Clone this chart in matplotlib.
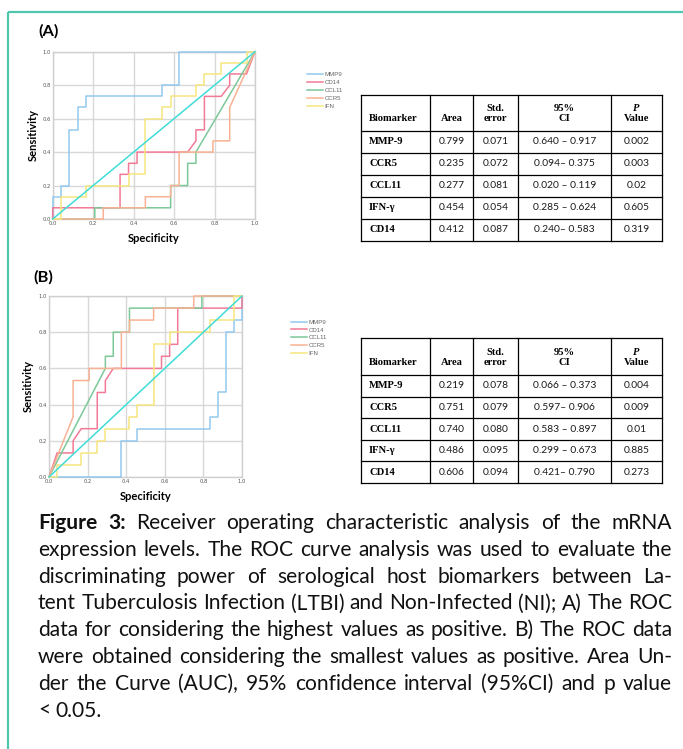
import matplotlib
matplotlib.use("Agg")
import matplotlib.pyplot as plt

W, H = 683, 749

# ---- ROC data, panel A (highest values positive) ----
a_mmp9_x = [0, 0, 0.042, 0.042, 0.083, 0.083, 0.125, 0.125, 0.167, 0.167, 0.542, 0.542, 0.625, 0.625, 1.0]
a_mmp9_y = [0, 0.133, 0.133, 0.2, 0.2, 0.533, 0.533, 0.667, 0.667, 0.733, 0.733, 0.8, 0.8, 1.0, 1.0]
a_cd14_x = [0, 0, 0.333, 0.333, 0.375, 0.375, 0.417, 0.417, 0.667, 0.708, 0.708, 0.75, 0.75, 0.833, 0.875, 0.875, 0.958, 1.0]
a_cd14_y = [0, 0.067, 0.067, 0.267, 0.267, 0.333, 0.333, 0.4, 0.4, 0.467, 0.533, 0.533, 0.733, 0.733, 0.8, 0.867, 0.867, 1.0]
a_ccl11_x = [0, 0.208, 0.208, 0.583, 0.583, 0.667, 0.667, 0.708, 0.708, 1.0]
a_ccl11_y = [0, 0, 0.067, 0.067, 0.2, 0.2, 0.333, 0.333, 0.4, 1.0]
a_ccr5_x = [0, 0.25, 0.25, 0.458, 0.458, 0.583, 0.583, 0.625, 0.625, 0.792, 0.792, 0.875, 0.875, 1.0]
a_ccr5_y = [0, 0, 0.067, 0.067, 0.133, 0.133, 0.2, 0.2, 0.4, 0.4, 0.467, 0.467, 0.667, 1.0]
a_ifn_x = [0, 0.042, 0.042, 0.167, 0.167, 0.375, 0.375, 0.458, 0.458, 0.542, 0.542, 0.583, 0.583,
           0.708, 0.708, 0.75, 0.75, 0.833, 0.833, 0.958, 0.958, 1.0]
a_ifn_y = [0, 0, 0.133, 0.133, 0.2, 0.2, 0.267, 0.267, 0.6, 0.6, 0.667, 0.667, 0.733,
           0.733, 0.8, 0.8, 0.867, 0.867, 0.933, 0.933, 1.0, 1.0]

# ---- ROC data, panel B (smallest values positive) ----
b_mmp9_x = [0, 0.375, 0.375, 0.458, 0.458, 0.833, 0.833, 0.875, 0.875, 0.917, 0.917, 0.958, 0.958, 1.0, 1.0]
b_mmp9_y = [0, 0, 0.2, 0.2, 0.267, 0.267, 0.333, 0.333, 0.467, 0.467, 0.8, 0.8, 0.867, 0.867, 1.0]
b_cd14_x = [0, 0.042, 0.125, 0.125, 0.167, 0.25, 0.25, 0.292, 0.292, 0.333, 0.583, 0.583, 0.625, 0.625,
            0.667, 0.667, 1.0, 1.0]
b_cd14_y = [0, 0.133, 0.133, 0.2, 0.267, 0.267, 0.467, 0.467, 0.533, 0.6, 0.6, 0.667, 0.667, 0.733,
            0.733, 0.933, 0.933, 1.0]
b_ccl11_x = [0, 0.292, 0.292, 0.333, 0.333, 0.417, 0.417, 0.792, 0.792, 1.0]
b_ccl11_y = [0, 0.6, 0.667, 0.667, 0.8, 0.8, 0.933, 0.933, 1.0, 1.0]
b_ccr5_x = [0, 0.125, 0.125, 0.208, 0.208, 0.375, 0.375, 0.417, 0.417, 0.542, 0.542, 0.75, 0.75, 1.0]
b_ccr5_y = [0, 0.333, 0.533, 0.533, 0.6, 0.6, 0.8, 0.8, 0.867, 0.867, 0.933, 0.933, 1.0, 1.0]
b_ifn_x = [0, 0.042, 0.042, 0.167, 0.167, 0.25, 0.25, 0.292, 0.292, 0.417, 0.417, 0.458, 0.458,
           0.542, 0.542, 0.625, 0.625, 0.833, 0.833, 0.958, 0.958, 1.0]
b_ifn_y = [0, 0, 0.067, 0.067, 0.133, 0.133, 0.2, 0.2, 0.267, 0.267, 0.333, 0.333, 0.4,
           0.4, 0.733, 0.733, 0.8, 0.8, 0.867, 0.867, 1.0, 1.0]

legend_names = ["MMP9", "CD14", "CCL11", "CCR5", "IFN"]
curve_colors = ["#92c9ee", "#f27a96", "#7cc898", "#f8b293", "#f6e67e"]
ticks = [0.0, 0.2, 0.4, 0.6, 0.8, 1.0]
tick_labels = ["0.0", "0.2", "0.4", "0.6", "0.8", "1.0"]

# ---- tables ----
biomarkers = ["MMP-9", "CCR5", "CCL11", "IFN-γ", "CD14"]
a_area = ["0.799", "0.235", "0.277", "0.454", "0.412"]
a_se = ["0.071", "0.072", "0.081", "0.054", "0.087"]
a_ci = ["0.640 – 0.917", "0.094– 0.375", "0.020 – 0.119", "0.285 – 0.624", "0.240– 0.583"]
a_p = ["0.002", "0.003", "0.02", "0.605", "0.319"]
b_area = ["0.219", "0.751", "0.740", "0.486", "0.606"]
b_se = ["0.078", "0.079", "0.080", "0.095", "0.094"]
b_ci = ["0.066 – 0.373", "0.597– 0.906", "0.583 – 0.897", "0.299 – 0.673", "0.421– 0.790"]
b_p = ["0.004", "0.009", "0.01", "0.885", "0.273"]

caption_lines = [
    "Figure 3: Receiver operating characteristic analysis of the mRNA",
    "expression levels. The ROC curve analysis was used to evaluate the",
    "discriminating power of serological host biomarkers between La-",
    "tent Tuberculosis Infection (LTBI) and Non-Infected (NI); A) The ROC",
    "data for considering the highest values as positive. B) The ROC data",
    "were obtained considering the smallest values as positive. Area Un-",
    "der the Curve (AUC), 95% confidence interval (95%CI) and p value",
    "< 0.05.",
]

SANS = "Lato"

fig = plt.figure(figsize=(W / 100, H / 100), dpi=100)
fig.patch.set_facecolor("white")

# pixel-coordinate overlay for border, tables and caption
canvas = fig.add_axes([0, 0, 1, 1])
canvas.set_xlim(0, W)
canvas.set_ylim(H, 0)
canvas.axis("off")
canvas.patch.set_alpha(0)

canvas.plot([7.5, W], [12, 12], color="#4fc7ad", lw=1.6, solid_capstyle="butt")
canvas.plot([7.5, 7.5], [12, H], color="#4fc7ad", lw=1.6, solid_capstyle="butt")


def roc_panel(box, curves, label, label_xy, sens_x, spec_y, leg_xy):
    l, t, r, b = box
    ax = fig.add_axes([l / W, 1 - b / H, (r - l) / W, (b - t) / H])
    for (xs, ys), c, name in zip(curves, curve_colors, legend_names):
        ax.plot(xs, ys, color=c, lw=1.1, label=name, clip_on=False, zorder=3)
    ax.plot([0, 1], [0, 1], color="#3fdcd8", lw=1.1, zorder=5, clip_on=False)
    ax.set_xlim(0, 1)
    ax.set_ylim(0, 1)
    ax.set_xticks(ticks)
    ax.set_yticks(ticks)
    ax.set_xticklabels(tick_labels)
    ax.set_yticklabels(tick_labels)
    ax.tick_params(length=0, labelsize=3.8, labelcolor="#555555", pad=1.5)
    ax.grid(True, color="#d8d8d8", lw=1.0)
    ax.set_axisbelow(True)
    for s in ax.spines.values():
        s.set_color("#cfcfcf")
        s.set_linewidth(1.0)
        s.set_zorder(1)
    canvas.text(label_xy[0], label_xy[1], label, fontsize=11.8, fontweight="bold",
                family=SANS, ha="left", va="center")
    canvas.text(sens_x, (t + b) / 2, "Sensitivity", rotation=90, fontsize=8,
                fontweight="bold", family=SANS, ha="center", va="center")
    canvas.text((l + r) / 2, spec_y, "Specificity", fontsize=8,
                fontweight="bold", family=SANS, ha="center", va="center")
    handles, labels = ax.get_legend_handles_labels()
    fig.legend(handles[:5], labels[:5], loc="upper left",
               bbox_to_anchor=(leg_xy[0] / W, 1 - leg_xy[1] / H), frameon=False,
               prop={"family": "Liberation Sans", "size": 4.4}, labelcolor="#666666",
               handlelength=2.6, handletextpad=0.3, labelspacing=0.42,
               borderpad=0, borderaxespad=0)
    return ax


def table(top, head_bot, bottom, area, se, ci, pv):
    cols = [361, 430, 473, 518, 611, 662]
    nrow = len(biomarkers)
    step = (bottom - head_bot) / nrow
    rows = [top, head_bot] + [head_bot + step * (i + 1) for i in range(nrow)]
    for y in rows:
        canvas.plot([cols[0], cols[-1]], [y, y], color="black", lw=0.9, solid_capstyle="projecting")
    for x in cols:
        canvas.plot([x, x], [top, bottom], color="black", lw=0.9, solid_capstyle="projecting")
    serif = dict(family="Liberation Serif", fontsize=7.6, fontweight="bold", va="center")
    l1 = top + (head_bot - top) * 0.38
    l2 = top + (head_bot - top) * 0.66
    canvas.text(cols[0] + 8, l2, "Biomarker", ha="left", **serif)
    canvas.text((cols[1] + cols[2]) / 2, l2, "Area", ha="center", **serif)
    canvas.text((cols[2] + cols[3]) / 2, l1, "Std.", ha="center", **serif)
    canvas.text((cols[2] + cols[3]) / 2, l2, "error", ha="center", **serif)
    canvas.text((cols[3] + cols[4]) / 2, l1, "95%", ha="center", **serif)
    canvas.text((cols[3] + cols[4]) / 2, l2, "CI", ha="center", **serif)
    canvas.text((cols[4] + cols[5]) / 2, l1, "P", ha="center", style="italic", **serif)
    canvas.text((cols[4] + cols[5]) / 2, l2, "Value", ha="center", **serif)
    sans = dict(family=SANS, fontsize=7.4, va="center", ha="center", color="#1a1a1a")
    for i in range(nrow):
        yc = (rows[i + 1] + rows[i + 2]) / 2
        canvas.text(cols[0] + 8, yc, biomarkers[i], ha="left", **serif)
        canvas.text((cols[1] + cols[2]) / 2, yc, area[i], **sans)
        canvas.text((cols[2] + cols[3]) / 2, yc, se[i], **sans)
        canvas.text((cols[3] + cols[4]) / 2, yc, ci[i], **sans)
        canvas.text((cols[4] + cols[5]) / 2, yc, pv[i], **sans)


curves_a = [(a_mmp9_x, a_mmp9_y), (a_cd14_x, a_cd14_y), (a_ccl11_x, a_ccl11_y),
            (a_ccr5_x, a_ccr5_y), (a_ifn_x, a_ifn_y)]
curves_b = [(b_mmp9_x, b_mmp9_y), (b_cd14_x, b_cd14_y), (b_ccl11_x, b_ccl11_y),
            (b_ccr5_x, b_ccr5_y), (b_ifn_x, b_ifn_y)]

roc_panel((52.7, 51.7, 255, 219), curves_a, "(A)", (38, 31), 33, 239, (307, 72))
roc_panel((49, 296, 242, 477), curves_b, "(B)", (33, 277), 28, 497, (291, 319.5))
table(95, 131, 241, a_area, a_se, a_ci, a_p)
table(338, 375, 483, b_area, b_se, b_ci, b_p)

# ---- justified caption ----
renderer = fig.canvas.get_renderer()
x0, x1 = 38, 672
line_y0, line_gap = 529, 26.8


def tokens(i, line):
    words = line.split(" ")
    if i == 0:
        return [(w, "bold" if k < 2 else "normal") for k, w in enumerate(words)]
    return [(w, "normal") for w in words]


def measure(s, weight, size):
    t = canvas.text(0, 0, s, family=SANS, fontsize=size, fontweight=weight)
    w = t.get_window_extent(renderer).width
    t.remove()
    return w


base = 17.0
widest = 0
for i, line in enumerate(caption_lines[:-1]):
    tk = tokens(i, line)
    sp = measure("a a", "normal", base) - measure("aa", "normal", base)
    nat = sum(measure(w, wt, base) for w, wt in tk) + (len(tk) - 1) * sp
    widest = max(widest, nat)
size = base * min(1.0, (x1 - x0 - 2) / widest)
space = measure("a a", "normal", size) - measure("aa", "normal", size)

for i, line in enumerate(caption_lines):
    tk = tokens(i, line)
    ws = [measure(w, wt, size) for w, wt in tk]
    if i < len(caption_lines) - 1 and len(tk) > 1:
        gap = (x1 - x0 - sum(ws)) / (len(tk) - 1)
    else:
        gap = space
    x = x0
    y = line_y0 + i * line_gap
    for (w, wt), wd in zip(tk, ws):
        canvas.text(x, y, w, family=SANS, fontsize=size, fontweight=wt,
                    ha="left", va="baseline", color="#111111")
        x += wd + gap

fig.savefig("out.png", dpi=100, facecolor="white")
